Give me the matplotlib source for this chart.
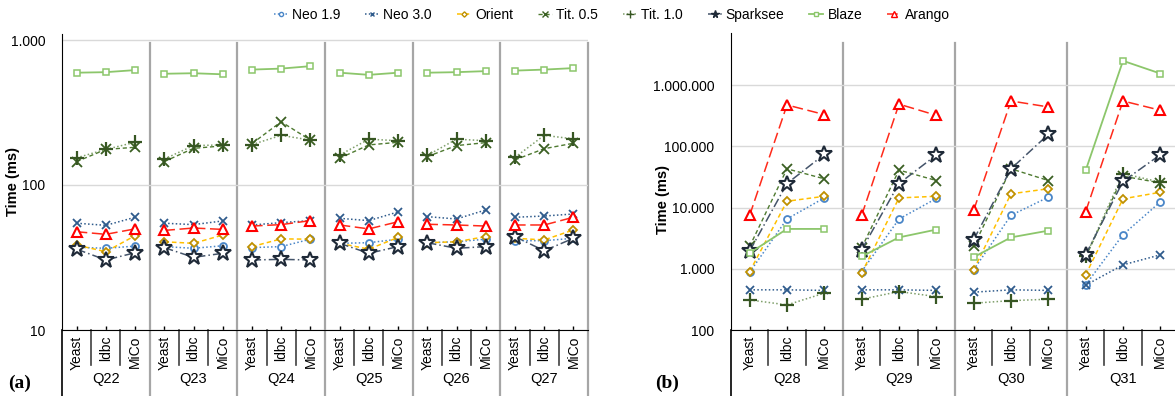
import numpy as np
import matplotlib
matplotlib.use("Agg")
import matplotlib.pyplot as plt
from matplotlib.ticker import FixedLocator, FuncFormatter, NullLocator
from matplotlib.lines import Line2D

plt.rcParams['font.family'] = ['Liberation Sans Narrow', 'Liberation Sans', 'DejaVu Sans']

categories = ['Yeast', 'ldbc', 'MiCo']
groups_a = ['Q22', 'Q23', 'Q24', 'Q25', 'Q26', 'Q27']
groups_b = ['Q28', 'Q29', 'Q30', 'Q31']
series_names = ['Neo 1.9', 'Neo 3.0', 'Orient', 'Tit. 0.5', 'Tit. 1.0', 'Sparksee', 'Blaze', 'Arango']

# panel (a), values in ms, 3 per query (Yeast, ldbc, MiCo)
neo19_a = [37.2, 36.6, 37.9, 37.6, 36.6, 38.1, 37.0, 37.6, 42.3, 39.6, 40.0, 42.3, 40.0, 40.6, 42.3, 41.3, 41.3, 42.9]
neo30_a = [54.5, 52.7, 59.9, 54.5, 53.3, 56.5, 53.0, 55.0, 56.8, 58.9, 56.8, 65.2, 60.5, 58.3, 67.3, 59.9, 61.1, 63.1]
orient_a = [38.5, 34.7, 44.7, 40.6, 39.6, 45.2, 37.6, 42.5, 42.3, 39.6, 36.1, 43.5, 40.0, 40.6, 44.1, 42.9, 41.8, 49.0]
tit05_a = [145, 176, 182, 145, 179, 186, 193, 273, 204, 153, 189, 197, 157, 187, 196, 149, 178, 194]
tit10_a = [154, 176, 197, 151, 187, 189, 190, 220, 204, 161, 207, 202, 160, 207, 202, 155, 220, 208]
spark_a = [36.1, 30.4, 34.1, 37.0, 31.7, 33.8, 30.4, 30.7, 30.4, 39.6, 33.8, 37.6, 40.0, 36.6, 37.6, 44.1, 35.2, 42.9]
blaze_a = [595, 600, 620, 585, 590, 580, 625, 635, 660, 595, 575, 595, 595, 600, 610, 615, 625, 640]
arango_a = [47.6, 45.7, 49.8, 48.6, 50.5, 49.4, 52.1, 53.3, 56.8, 53.0, 49.8, 55.8, 53.6, 53.0, 52.1, 53.0, 53.0, 59.9]

# panel (b)
neo19_b = [880, 6530, 14400, 903, 6500, 14100, 964, 7480, 14800, 547, 3610, 12400]
neo30_b = [453, 453, 444, 453, 453, 444, 415, 453, 444, 540, 1160, 1690]
orient_b = [903, 12700, 15300, 851, 14400, 15300, 964, 16800, 20300, 798, 13900, 17800]
tit05_b = [2320, 43000, 29500, 2200, 41000, 27700, 2320, 43000, 27700, 1550, 32600, 25300]
tit10_b = [310, 257, 400, 318, 425, 351, 274, 302, 318, 1600, 36000, 26000]
spark_b = [1950, 24700, 74000, 2050, 24700, 72300, 2990, 43000, 157000, 1700, 26800, 73100]
blaze_b = [1810, 4480, 4480, 1590, 3260, 4370, 1550, 3260, 4200, 40500, 2500000, 1550000]
arango_b = [7480, 475000, 331000, 7480, 490000, 322000, 9030, 552000, 441000, 8600, 552000, 389000]

data_a = [neo19_a, neo30_a, orient_a, tit05_a, tit10_a, spark_a, blaze_a, arango_a]
data_b = [neo19_b, neo30_b, orient_b, tit05_b, tit10_b, spark_b, blaze_b, arango_b]

styles = [
    dict(color='#4A86C8', ls=(0, (1, 1.5)), marker='o', ms=5, mfc='white', mec='#4A86C8', mew=1.3, lw=1.1),
    dict(color='#2F5B8C', ls=(0, (1, 1.5)), marker='x', ms=6, mec='#2F5B8C', mew=1.3, lw=1.1),
    dict(color='#FFC000', ls=(0, (3, 2)), marker='D', ms=4.5, mfc='white', mec='#BF9000', mew=1.3, lw=1.1),
    dict(color='#4E7A30', ls=(0, (3, 2)), marker='x', ms=7, mec='#3A5F22', mew=1.3, lw=1.0),
    dict(color='#7F9F6A', ls=(0, (1, 1.5)), marker='+', ms=10, mec='#375623', mew=1.6, lw=1.1),
    dict(color='#44546A', ls=(0, (6, 2, 1, 2)), marker='*', ms=12, mfc='white', mec='#1F2A38', mew=1.5, lw=1.1),
    dict(color='#8CC66B', ls='-', marker='s', ms=5, mfc='white', mec='#8CC66B', mew=1.1, lw=1.3),
    dict(color='#FF2A1A', ls=(0, (7, 3)), marker='^', ms=7, mfc='white', mec='#FF0000', mew=1.5, lw=1.1),
]


def thousands(v, pos):
    return f"{int(round(v)):,}".replace(",", ".")


def draw_panel(ax, groups, data, ylim, yticks, sep_top):
    n = len(groups)
    for vals, st in zip(data, styles):
        for g in range(n):
            xs = [g * 3 + c + 0.5 for c in range(3)]
            ax.plot(xs, vals[g * 3:g * 3 + 3], zorder=3, clip_on=False, **st)
    ax.set_yscale('log')
    ax.set_ylim(*ylim)
    ax.set_xlim(0, n * 3)
    ax.yaxis.set_major_locator(FixedLocator(yticks))
    ax.yaxis.set_minor_locator(NullLocator())
    ax.yaxis.set_major_formatter(FuncFormatter(thousands))
    ax.tick_params(axis='y', length=0, pad=12, labelsize=10)
    ax.grid(axis='y', color='#D9D9D9', lw=1.0, zorder=0)
    ax.set_xticks([g * 3 + c + 0.5 for g in range(n) for c in range(3)])
    ax.set_xticklabels(categories * n, rotation=90, fontsize=10)
    ax.tick_params(axis='x', direction='in', length=3, width=1, pad=4)
    for s in ['top', 'right']:
        ax.spines[s].set_visible(False)
    ax.spines['left'].set_bounds(ylim[0], ylim[1])
    tr = ax.get_xaxis_transform()
    # separators
    for g in range(1, n + 1):
        ax.plot([g * 3, g * 3], [-0.23, sep_top], transform=tr, color='#A6A6A6', lw=1.6, clip_on=False, zorder=1)
        ax.text(g * 3 - 1.5, -0.165, groups[g - 1], transform=tr, ha='center', va='center', fontsize=10.5)
        for c in (1, 2):
            ax.plot([g * 3 - 3 + c] * 2, [0, -0.117], transform=tr, color='#404040', lw=1.2, clip_on=False)
    ax.plot([0, 0], [-0.23, 0], transform=tr, color='black', lw=1.2, clip_on=False)


fig = plt.figure(figsize=(11.75, 3.96), dpi=100)
# pixel geometry of the reference
ax_a = fig.add_axes([62 / 1175, 66 / 396, 526 / 1175, 296 / 396])
ax_b = fig.add_axes([731 / 1175, 66 / 396, 448 / 1175, 297 / 396])

draw_panel(ax_a, groups_a, data_a, (10, 10 ** (3 + 6 / 145)), [10, 100, 1000], 0.97)
draw_panel(ax_b, groups_b, data_b, (100, 10 ** (6 + 52 / 61)), [100, 1000, 10000, 100000, 1000000], 0.966)

ax_a.set_ylabel('Time (ms)', fontweight='bold', fontsize=10.5)
ax_a.yaxis.set_label_coords(-42 / 526, 0.5)
ax_b.set_ylabel('Time (ms)', fontweight='bold', fontsize=10.5)
ax_b.yaxis.set_label_coords(-61 / 448, 0.44)

fig.text(8 / 1175, 1 - 383 / 396, '(a)', fontsize=14, fontweight='bold', family='Liberation Serif', va='center')
fig.text(655 / 1175, 1 - 383 / 396, '(b)', fontsize=14, fontweight='bold', family='Liberation Serif', va='center')

handles = []
for name, st in zip(series_names, styles):
    h = dict(st)
    h['ms'] = min(st['ms'] * 0.6, 5.5)
    h['mew'] = 1.0
    if st['marker'] == '*':
        h['mfc'] = st['mec']
    handles.append(Line2D([], [], label=name, **h))
fig.legend(handles=handles, loc='center', bbox_to_anchor=(612 / 1175, 1 - 15 / 396), ncol=8,
           frameon=False, handlelength=1.0, handletextpad=0.3, columnspacing=1.8, fontsize=10)

fig.savefig('out.png', dpi=100)
